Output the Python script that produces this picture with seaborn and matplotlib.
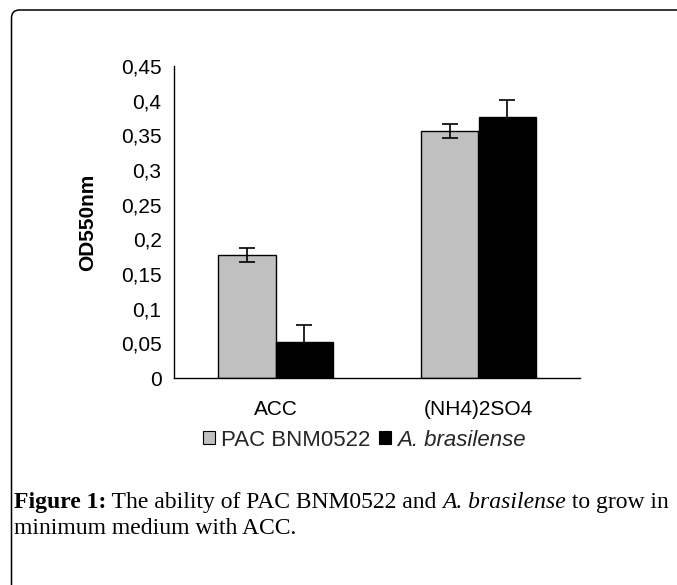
import matplotlib
matplotlib.use("Agg")
import matplotlib.pyplot as plt
from matplotlib.patches import FancyBboxPatch
import seaborn as sns
import pandas as pd
import numpy as np

# ---- data ----
categories = ["ACC", "(NH4)2SO4"]
strains = ["PAC BNM0522", "A. brasilense"]
pac_values = [0.177, 0.356]
pac_errors = [0.010, 0.010]
abr_values = [0.052, 0.376]
abr_errors = [0.025, 0.025]
ytick_values = [0, 0.05, 0.1, 0.15, 0.2, 0.25, 0.3, 0.35, 0.4, 0.45]
ytick_labels = ["0", "0,05", "0,1", "0,15", "0,2", "0,25", "0,3", "0,35", "0,4", "0,45"]
colors = ["#c0c0c0", "#000000"]

df = pd.DataFrame({
    "category": categories * 2,
    "strain": [strains[0]] * 2 + [strains[1]] * 2,
    "value": pac_values + abr_values,
    "err": pac_errors + abr_errors,
})

sns.set_theme(style="white")
plt.rcParams["font.family"] = ["Liberation Sans", "DejaVu Sans"]

W, H, DPI = 677, 585, 100
fig = plt.figure(figsize=(W / DPI, H / DPI), dpi=DPI)
ax = fig.add_axes([174 / W, (H - 378) / H, (580 - 174) / W, (378 - 66) / H])

sns.barplot(data=df, x="category", y="value", hue="strain", order=categories,
            hue_order=strains, palette=colors, edgecolor="black", linewidth=1.0,
            errorbar=None, width=0.57, saturation=1, ax=ax)

# error bars from the bar containers
for cont, s in zip(ax.containers, strains):
    sub = df[df.strain == s].set_index("category").loc[categories]
    xs = [b.get_x() + b.get_width() / 2 for b in cont]
    ys = [b.get_height() for b in cont]
    ax.errorbar(xs, ys, yerr=sub["err"].values, fmt="none", ecolor="black",
                elinewidth=1.2, capsize=6, capthick=1.2, zorder=1)

ax.set_ylim(0, 0.45)
ax.set_xlim(-0.5, len(categories) - 0.5)
ax.set_yticks(ytick_values)
ax.set_yticklabels(ytick_labels)

# Excel-style ticks between categories, labels centered
ax.set_xticks(np.arange(-0.5, len(categories), 1.0))
ax.set_xticklabels([])
ax.set_xticks(np.arange(len(categories)), minor=True)
ax.set_xticklabels(categories, minor=True)
ax.tick_params(axis="x", which="major", direction="out", length=6, width=1, color="black")
ax.tick_params(axis="x", which="minor", length=0, pad=16, labelsize=15, labelcolor="black")
ax.tick_params(axis="y", direction="out", length=4, width=1, color="black",
               pad=5, labelsize=15, labelcolor="black")

sns.despine(ax=ax)
for sp in ["left", "bottom"]:
    ax.spines[sp].set_color("black")
    ax.spines[sp].set_linewidth(1.0)

ax.set_xlabel("")
ax.set_ylabel("OD550nm", fontsize=15, fontweight="bold", color="black")
ax.yaxis.set_label_coords((97 - 174) / (580 - 174), 0.5)

# legend
leg = ax.legend(loc="center", bbox_to_anchor=(364 / W, (H - 440) / H),
                bbox_transform=fig.transFigure, ncol=2, frameon=False,
                fontsize=16, handlelength=0.55, handleheight=0.55,
                handletextpad=0.25, columnspacing=0.4)
for h in leg.legend_handles:
    h.set_edgecolor("black")
    h.set_linewidth(0.8)
leg.get_texts()[1].set_style("italic")

# rounded frame around the figure (clipped at right/bottom)
frame = FancyBboxPatch((11.5, -20), W + 40, (H - 10) + 20,
                       boxstyle="round,pad=0,rounding_size=8",
                       transform=None, facecolor="none", edgecolor="black",
                       linewidth=1.1, clip_on=False)
fig.add_artist(frame)

# caption with mixed styles
fig.canvas.draw()
renderer = fig.canvas.get_renderer()
cap_font = ["Liberation Serif", "DejaVu Serif"]
cap_size = 17

def put_pieces(pieces, x0, y0):
    x = x0
    for txt, weight, style in pieces:
        t = fig.text(x, y0, txt, fontsize=cap_size, family=cap_font,
                     fontweight=weight, style=style, color="black",
                     transform=None, va="baseline", ha="left")
        bb = t.get_window_extent(renderer)
        x = bb.x1

put_pieces([("Figure 1:", "bold", "normal"),
            (" The ability of PAC BNM0522 and ", "normal", "normal"),
            ("A. brasilense", "normal", "italic"),
            (" to grow in", "normal", "normal")], 14, H - 508)
put_pieces([("minimum medium with ACC.", "normal", "normal")], 14, H - 534)

fig.savefig("out.png", dpi=DPI)
